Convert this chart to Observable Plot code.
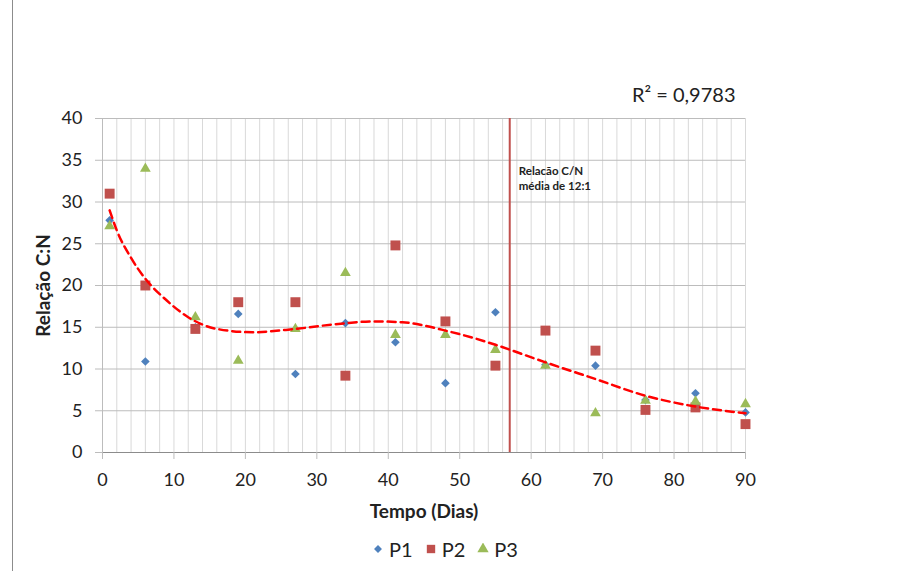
<!DOCTYPE html>
<html>
<head>
<meta charset="utf-8">
<script src="https://cdn.jsdelivr.net/npm/d3@7"></script>
<script src="https://cdn.jsdelivr.net/npm/@observablehq/plot@0.6"></script>
<style>
  html, body { margin: 0; padding: 0; background: #fff; }
  #wrap { position: relative; width: 912px; height: 571px; overflow: hidden; font-family: Lato, "Open Sans", sans-serif; }
  #border { position: absolute; left: 12px; top: 0; width: 1px; height: 571px; background: #8c8c8c; }
  #legend { position: absolute; left: 372px; top: 537px; display: flex; align-items: center; font-size: 20px; color: #222; }
  #legend .item { display: flex; align-items: center; margin-right: 12px; }
  #legend svg { margin-right: 5px; }
</style>
</head>
<body>
<div id="wrap">
  <div id="chart"></div>
  <div id="legend"></div>
  <div id="border"></div>
</div>
<script>
// ---- data ----
const days = [1, 6, 13, 19, 27, 34, 41, 48, 55, 62, 69, 76, 83, 90];
const p1 = [27.8, 10.9, 15.0, 16.6, 9.4, 15.5, 13.2, 8.3, 16.8, 10.5, 10.4, 6.3, 7.1, 4.8];
const p2 = [31.0, 20.0, 14.8, 18.0, 18.0, 9.2, 24.8, 15.7, 10.4, 14.6, 12.2, 5.1, 5.4, 3.4];
const p3 = [27.1, 34.0, 16.2, 11.0, 14.8, 21.5, 14.1, 14.1, 12.3, 10.4, 4.7, 6.2, 6.1, 5.8];
const seriesNames = ["P1", "P2", "P3"];
const seriesColors = ["#4f81bd", "#c0504d", "#9bbb59"];

// trend line
const trendDays   = [1, 2, 4, 6, 9, 12, 16, 21, 27, 33, 38, 42, 45, 48, 52, 55, 62, 69, 76, 83, 90];
const trendValues = [29.0, 26.6, 23.3, 20.8, 18.2, 16.2, 14.8, 14.4, 14.8, 15.4, 15.7, 15.6, 15.2, 14.6, 13.7, 12.9, 10.8, 8.8, 6.8, 5.5, 4.7];

const refDay = 57;
const refLabel = "Relacão C/N\nmédia de 12:1";
const r2Label = "R² = 0,9783";
const xLabel = "Tempo (Dias)";
const yLabel = "Relação C:N";
const xTicks = [0, 10, 20, 30, 40, 50, 60, 70, 80, 90];
const xMinor = [0, 2, 4, 6, 8, 10, 12, 14, 16, 18, 20, 22, 24, 26, 28, 30, 32, 34, 36, 38, 40, 42, 44, 46, 48, 50, 52, 54, 56, 58, 60, 62, 64, 66, 68, 70, 72, 74, 76, 78, 80, 82, 84, 86, 88, 90];
const yTicks = [0, 5, 10, 15, 20, 25, 30, 35, 40];

const toRows = (vals) => days.map((d, i) => ({x: d, y: vals[i]}));
const trend = trendDays.map((d, i) => ({x: d, y: trendValues[i]}));

const chart = Plot.plot({
  width: 912,
  height: 530,
  marginLeft: 102,
  marginRight: 167,
  marginTop: 118,
  marginBottom: 78,
  style: {fontFamily: "Lato, 'Open Sans', sans-serif", background: "white", color: "#222", overflow: "visible"},
  x: {domain: [0, 90]},
  y: {domain: [0, 40]},
  marks: [
    Plot.gridX(xMinor, {stroke: "#d9d9d9", strokeOpacity: 1}),
    Plot.gridY(yTicks, {stroke: "#bcbcbc", strokeOpacity: 1}),
    Plot.ruleX([0], {stroke: "#bcbcbc"}),
    Plot.ruleY([0], {stroke: "#8c8c8c"}),
    Plot.axisX(xTicks, {tickSize: 7, tickPadding: 14, fontSize: 18, label: null, stroke: "#bcbcbc"}),
    Plot.axisY(yTicks, {tickSize: 7, tickPadding: 13, fontSize: 18, label: null, stroke: "#bcbcbc"}),
    Plot.ruleX([refDay], {stroke: "#c0504d", strokeWidth: 2, y1: 0, y2: 40}),
    Plot.dot(toRows(p1), {x: "x", y: "y", symbol: "diamond2", r: 3.9, fill: seriesColors[0]}),
    Plot.dot(toRows(p2), {x: "x", y: "y", symbol: "square", r: 5.6, fill: seriesColors[1]}),
    Plot.dot(toRows(p3), {x: "x", y: "y", symbol: "triangle", r: 4.0, fill: seriesColors[2]}),
    Plot.line(trend, {x: "x", y: "y", stroke: "#ff0000", strokeWidth: 2.5, strokeDasharray: "8,5", curve: "monotone-x"}),
    Plot.text([refLabel], {x: () => refDay, frameAnchor: "top", textAnchor: "start", lineAnchor: "top", dx: 9, dy: 45, fontSize: 11.5, fontWeight: "bold", lineHeight: 1.35, fill: "#222"}),
    Plot.text([r2Label], {frameAnchor: "top-right", textAnchor: "end", lineAnchor: "middle", dx: -10, dy: -23, fontSize: 20, fill: "#222"}),
    Plot.text([xLabel], {frameAnchor: "bottom", textAnchor: "middle", lineAnchor: "middle", dy: 59, fontSize: 19, fontWeight: "bold", fill: "#222"}),
    Plot.text([yLabel], {frameAnchor: "left", textAnchor: "middle", rotate: -90, lineAnchor: "middle", dx: -59, fontSize: 19, fontWeight: "bold", fill: "#222"})
  ]
});
document.getElementById("chart").appendChild(chart);

// legend
const symbols = [d3.symbolDiamond2, d3.symbolSquare, d3.symbolTriangle];
const sizes = [40, 70, 55];
const legend = d3.select("#legend");
seriesNames.forEach((name, i) => {
  const item = legend.append("div").attr("class", "item");
  const s = item.append("svg").attr("width", 12).attr("height", 12);
  s.append("path").attr("transform", "translate(6,6)").attr("d", d3.symbol(symbols[i], sizes[i])()).attr("fill", seriesColors[i]);
  item.append("span").text(name);
});
</script>
</body>
</html>
